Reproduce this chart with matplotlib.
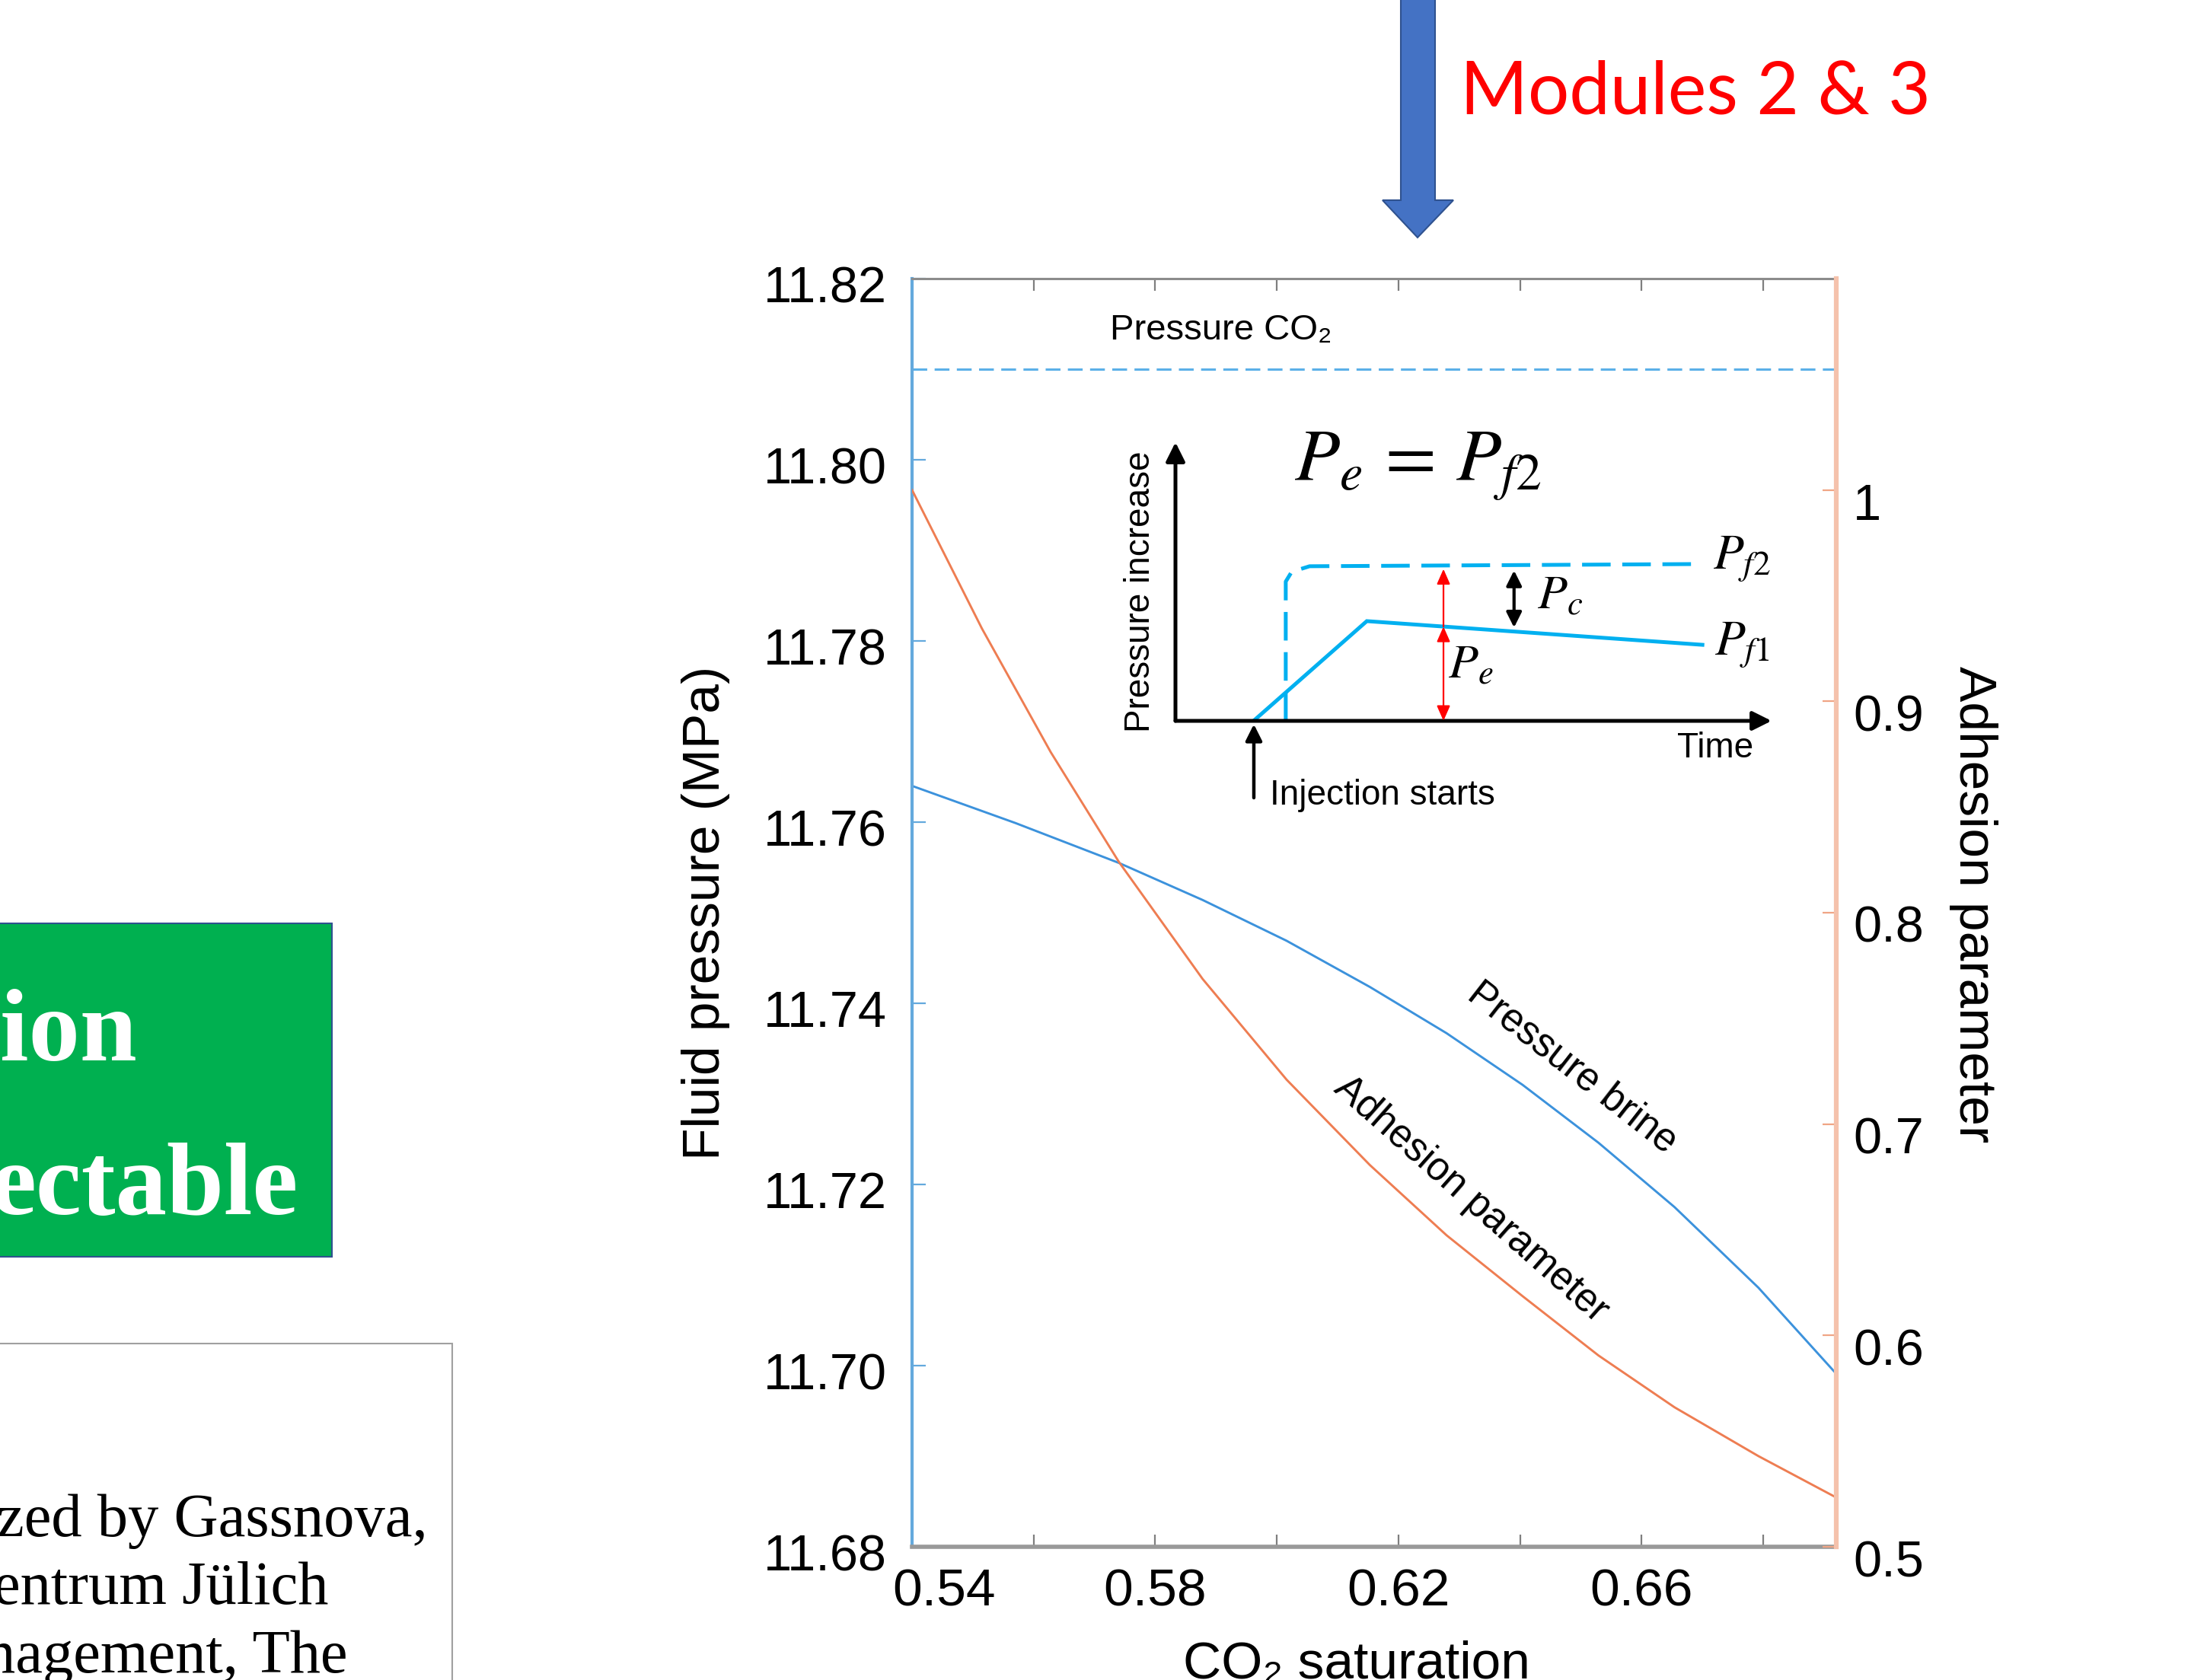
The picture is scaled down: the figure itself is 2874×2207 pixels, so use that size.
import matplotlib
matplotlib.use('Agg')
import matplotlib.pyplot as plt
import matplotlib.transforms as mtransforms
from matplotlib.patches import Polygon, Rectangle

plt.rcParams['font.family'] = ['Liberation Sans', 'DejaVu Sans']
plt.rcParams['lines.scale_dashes'] = False
plt.rcParams['axes.unicode_minus'] = False

# ---------------- data ----------------
sat_brine = [0.5400, 0.5570, 0.5740, 0.5878, 0.6016, 0.6153, 0.6279, 0.6404,
             0.6529, 0.6654, 0.6792, 0.6924]
pressure_brine = [11.7640, 11.7599, 11.7555, 11.7514, 11.7469, 11.7418, 11.7367,
                  11.7310, 11.7246, 11.7175, 11.7086, 11.6988]
sat_adh = [0.5400, 0.5515, 0.5628, 0.5740, 0.5878, 0.6016, 0.6153, 0.6279, 0.6404,
           0.6529, 0.6654, 0.6792, 0.6924]
adhesion = [1.0000, 0.9344, 0.8760, 0.8241, 0.7686, 0.7210, 0.6806, 0.6474, 0.6186,
            0.5905, 0.5660, 0.5429, 0.5227]
pressure_co2 = 11.81

x_ticks = [0.54, 0.56, 0.58, 0.60, 0.62, 0.64, 0.66, 0.68]
x_ticklabels = ['0.54', '', '0.58', '', '0.62', '', '0.66', '']
y_ticks = [11.68, 11.70, 11.72, 11.74, 11.76, 11.78, 11.80, 11.82]
y_ticklabels = ['11.68', '11.70', '11.72', '11.74', '11.76', '11.78', '11.80', '11.82']
y2_ticks = [0.5, 0.6, 0.7, 0.8, 0.9, 1.0]
y2_ticklabels = ['0.5', '0.6', '0.7', '0.8', '0.9', '1']

# schematic inset (arbitrary units)
pf1_time = [0.131, 0.321, 0.884]
pf1_press = [0.0, 0.358, 0.273]
pf2_time = [0.185, 0.185, 0.195, 0.225, 0.884]
pf2_press = [0.0, 0.50, 0.535, 0.555, 0.563]

# ---------------- figure ----------------
W, H = 2874, 2207
fig = plt.figure(figsize=(W / 100, H / 100), dpi=100)
fig.patch.set_facecolor('white')


def fx(px):
    return px / W


def fy(py):
    return 1 - py / H


# slide overlay (pixel coordinates)
ax0 = fig.add_axes([0, 0, 1, 1], zorder=-5)
ax0.set_xlim(0, W)
ax0.set_ylim(H, 0)
ax0.axis('off')

arrow_pts = [(1840, -10), (1885, -10), (1885, 263), (1909, 263), (1862, 312),
             (1816, 263), (1840, 263)]
ax0.add_patch(Polygon(arrow_pts, closed=True, fc='#4472C4', ec='#2F528F', lw=1.5))
ax0.text(1918, 150, 'Modules 2 & 3', color='#FF0000', fontsize=69,
         family=['Lato', 'DejaVu Sans'], ha='left', va='baseline')

ax0.add_patch(Rectangle((-10, 1213), 446, 438, fc='#00B050', ec='#2F528F', lw=1.5))
ax0.text(180, 1393, 'ion', ha='right', va='baseline', color='white',
         fontweight='bold', family=['Liberation Serif'], fontsize=97)
ax0.text(392, 1595, 'ectable', ha='right', va='baseline', color='white',
         fontweight='bold', family=['Liberation Serif'], fontsize=97)

ax0.add_patch(Rectangle((-10, 1765), 604, 520, fc='white', ec='#A0A0A0', lw=1.5))
for txt, xr, yb in [('zed by Gassnova,', 562, 2018),
                    ('entrum Jülich', 431, 2107),
                    ('nagement, The', 457, 2197)]:
    ax0.text(xr, yb, txt, ha='right', va='baseline', color='black',
             family=['Liberation Serif'], fontsize=58)

# ---------------- main axes ----------------
L, R, T, B = 1198, 2412, 366, 2032
ax = fig.add_axes([fx(L), fy(B), fx(R) - fx(L), fy(T) - fy(B)])
ax.set_facecolor('none')
ax2 = ax.twinx()

blue_axis = '#64A9DD'
salmon_axis = '#F5C2AC'

ax.plot(sat_brine, pressure_brine, color='#3C92DC', lw=2.1, solid_joinstyle='round')
ax2.plot(sat_adh, adhesion, color='#EE7D52', lw=2.1, solid_joinstyle='round')
dash_line = ax.axhline(pressure_co2, color='#5BB0E8', lw=2.2)
dash_line.set_dashes((14, 7))

ax.set_xlim(0.54, 0.692)
ax.set_ylim(11.68, 11.82)
ax2.set_ylim(0.5, 1.1)

ax.set_xticks(x_ticks)
ax.set_xticklabels(x_ticklabels)
ax.set_yticks(y_ticks)
ax.set_yticklabels(y_ticklabels)
ax2.set_yticks(y2_ticks)
ax2.set_yticklabels(y2_ticklabels)

ax.tick_params(axis='x', direction='in', length=11.5, width=1.6, color='#7F7F7F',
               top=True, labelsize=50, pad=20)
ax.tick_params(axis='y', direction='in', length=13, width=1.6, color=blue_axis,
               right=False, labelsize=48, pad=24)
ax2.tick_params(axis='y', direction='in', length=13, width=1.6, color='#F0A585',
                labelsize=48, pad=16)

ax.spines['left'].set_color(blue_axis)
ax.spines['left'].set_linewidth(3)
ax.spines['right'].set_visible(False)
ax.spines['top'].set_color('#8C8C8C')
ax.spines['top'].set_linewidth(2.2)
ax.spines['bottom'].set_color('#999999')
ax.spines['bottom'].set_linewidth(4)
for side in ['left', 'top', 'bottom']:
    ax2.spines[side].set_visible(False)
ax2.spines['right'].set_color(salmon_axis)
ax2.spines['right'].set_linewidth(4.5)

ax.set_ylabel('Fluid pressure (MPa)', fontsize=50)
ax.yaxis.set_label_coords(-0.2232, 0.5)
ax.yaxis.label.set_va('center')
ax2.set_ylabel('Adhesion parameter', fontsize=50, rotation=-90)
ax2.yaxis.set_label_coords(1.1483, 0.5066)
ax2.yaxis.label.set_va('center')
ax.set_xlabel('CO₂ saturation', fontsize=50)
ax.xaxis.set_label_coords(0.481, -0.0738)

# small label offsets as in the reference
off_x = mtransforms.ScaledTranslation(0.42, 0, fig.dpi_scale_trans)
t0 = ax.xaxis.get_major_ticks()[0]
t0.label1.set_transform(t0.label1.get_transform() + off_x)
off_y = mtransforms.ScaledTranslation(0, -0.07, fig.dpi_scale_trans)
for t in ax.yaxis.get_major_ticks():
    t.label1.set_transform(t.label1.get_transform() + off_y)
off_y2 = mtransforms.ScaledTranslation(0, -0.15, fig.dpi_scale_trans)
for t in ax2.yaxis.get_major_ticks():
    t.label2.set_transform(t.label2.get_transform() + off_y2)

ax.text(0.5908, 11.8143, 'Pressure CO₂', ha='center', va='center', fontsize=34)
ax.text(0.6486, 11.7329, 'Pressure brine', ha='center', va='center', fontsize=37,
        rotation=-38, rotation_mode='anchor')
ax.text(0.6319, 11.7183, 'Adhesion parameter', ha='center', va='center', fontsize=37,
        rotation=-41.5, rotation_mode='anchor')

# ---------------- schematic inset ----------------
ax3 = fig.add_axes([fx(1544), fy(947), fx(2327) - fx(1544), fy(581) - fy(947)])
ax3.set_xlim(0, 1)
ax3.set_ylim(0, 1)
ax3.axis('off')
ax3.patch.set_alpha(0)

cyan = '#00B0F0'
ax3.plot(pf1_time, pf1_press, color=cyan, lw=3.6, solid_joinstyle='miter')
l2, = ax3.plot(pf2_time, pf2_press, color=cyan, lw=3.6)
l2.set_dashes((27, 11))

axis_arrow = dict(arrowstyle='-|>,head_length=0.5,head_width=0.25', color='black',
                  lw=3.6, mutation_scale=30, shrinkA=0, shrinkB=0)
ax3.annotate('', xy=(1.0, 0), xytext=(0, 0), arrowprops=axis_arrow, annotation_clip=False)
ax3.annotate('', xy=(0, 1.0), xytext=(0, 0), arrowprops=axis_arrow, annotation_clip=False)

red_both = dict(arrowstyle='<|-|>,head_length=0.5,head_width=0.22', color='#FF0000',
                lw=1.6, mutation_scale=24, shrinkA=0, shrinkB=0)
red_one = dict(arrowstyle='-|>,head_length=0.5,head_width=0.22', color='#FF0000',
               lw=1.6, mutation_scale=24, shrinkA=0, shrinkB=0)
ax3.annotate('', xy=(0.4496, 0.0), xytext=(0.4496, 0.3385), arrowprops=red_both,
             annotation_clip=False)
ax3.annotate('', xy=(0.4496, 0.545), xytext=(0.4496, 0.3385), arrowprops=red_one,
             annotation_clip=False)
blk_both = dict(arrowstyle='<|-|>,head_length=0.5,head_width=0.25', color='black',
                lw=3, mutation_scale=24, shrinkA=0, shrinkB=0)
ax3.annotate('', xy=(0.568, 0.335), xytext=(0.568, 0.54), arrowprops=blk_both,
             annotation_clip=False)
inj = dict(arrowstyle='-|>,head_length=0.5,head_width=0.25', color='black',
           lw=3.2, mutation_scale=26, shrinkA=0, shrinkB=0)
ax3.annotate('', xy=(0.1315, -0.012), xytext=(0.1315, -0.276), arrowprops=inj,
             annotation_clip=False)

ax3.text(0.407, 0.915, r'$P_e\,=\,P_{f2}$', fontsize=70, math_fontfamily='stix',
         ha='center', va='center')
ax3.text(0.950, 0.582, r'$P_{f2}$', fontsize=47, math_fontfamily='stix',
         ha='center', va='center')
ax3.text(0.950, 0.273, r'$P_{f1}$', fontsize=47, math_fontfamily='stix',
         ha='center', va='center')
ax3.text(0.645, 0.45, r'$P_c$', fontsize=46, math_fontfamily='stix',
         ha='center', va='center')
ax3.text(0.495, 0.202, r'$P_e$', fontsize=46, math_fontfamily='stix',
         ha='center', va='center')
ax3.text(0.905, -0.098, 'Time', fontsize=33, ha='center', va='center')
ax3.text(0.158, -0.268, 'Injection starts', fontsize=33, ha='left', va='center')
ax3.text(-0.059, 0.464, 'Pressure increase', fontsize=33, ha='center', va='center',
         rotation=90)

fig.savefig('out.png', dpi=100)
